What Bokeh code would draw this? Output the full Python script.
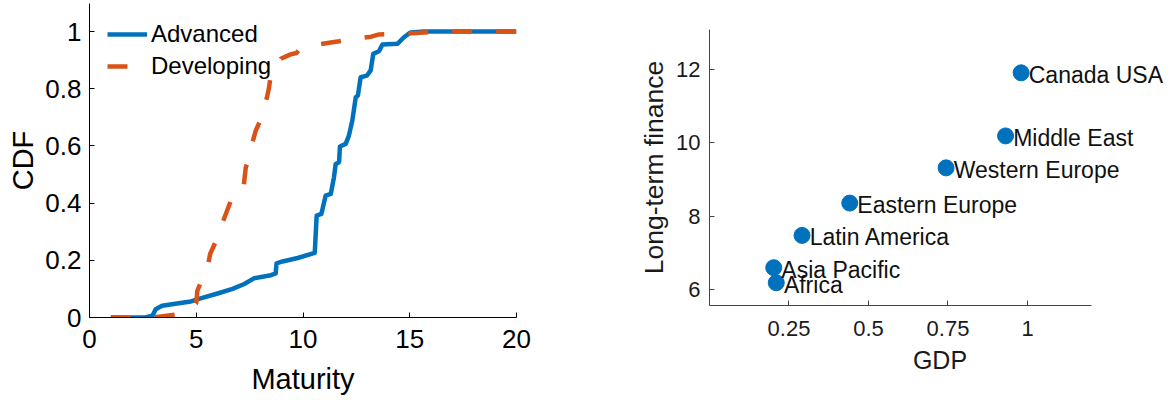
from bokeh.plotting import figure
from bokeh.layouts import row, column
from bokeh.models import (FixedTicker, NumeralTickFormatter, Legend, LegendItem,
                          Range1d)
from bokeh.embed import file_html
from bokeh.resources import INLINE
from bokeh.core.properties import value

FONT = "Liberation Sans"
BLUE = "#0072BD"
ORANGE = "#D95319"

# ---- Left panel: CDF of maturity ----
adv_maturity = [1.0, 2.6, 2.95, 3.1, 3.4, 4.1, 4.75, 5.2, 6.0, 6.7, 7.25, 7.7, 8.5,
                8.72, 8.76, 9.04, 9.75, 10.55, 10.64, 10.86, 11.06, 11.3, 11.45,
                11.53, 11.69, 11.73, 12.0, 12.15, 12.31, 12.47, 12.57, 12.7, 13.0,
                13.17, 13.29, 13.56, 13.72, 14.42, 14.73, 15.04, 15.66, 20.0]
adv_cdf = [0.0, 0.0, 0.006, 0.029, 0.041, 0.049, 0.056, 0.067, 0.084, 0.1, 0.117,
           0.137, 0.148, 0.154, 0.189, 0.196, 0.208, 0.226, 0.356, 0.362, 0.426,
           0.432, 0.49, 0.537, 0.543, 0.598, 0.607, 0.636, 0.689, 0.77, 0.776,
           0.84, 0.846, 0.864, 0.922, 0.931, 0.955, 0.957, 0.98, 0.997, 1.0, 1.0]

dev_maturity = [1.0, 3.0, 4.0, 4.85, 5.0, 5.05, 5.37, 5.53, 5.65, 6.0, 6.15, 6.27,
                6.62, 6.9, 7.1, 7.21, 7.32, 7.45, 7.55, 7.79, 7.95, 8.1, 8.33, 8.4,
                8.49, 8.96, 9.42, 9.7, 9.81, 10.75, 11.69, 12.7, 13.2, 13.56, 14.73,
                15.66, 16.5, 20.0]
dev_cdf = [0.0, 0.0, 0.01, 0.041, 0.05, 0.093, 0.152, 0.175, 0.222, 0.28, 0.31,
           0.339, 0.408, 0.42, 0.43, 0.45, 0.525, 0.55, 0.59, 0.654, 0.68, 0.706,
           0.776, 0.8, 0.846, 0.905, 0.92, 0.925, 0.936, 0.955, 0.966, 0.978,
           0.982, 0.99, 0.992, 0.997, 1.0, 1.0]

cdf_xticks = [0, 5, 10, 15, 20]
cdf_yticks = [0, 0.2, 0.4, 0.6, 0.8, 1]

# ---- Right panel: regions ----
regions = ["Canada USA", "Middle East", "Western Europe", "Eastern Europe",
           "Latin America", "Asia Pacific", "Africa"]
gdp = [0.98, 0.931, 0.744, 0.441, 0.291, 0.202, 0.21]
long_term_finance = [11.91, 10.19, 9.32, 8.36, 7.48, 6.6, 6.19]
gdp_ticks = [0.25, 0.5, 0.75, 1]
ltf_ticks = [6, 8, 10, 12]
gdp_limits = (0, 1.2)
ltf_limits = (5.57, 13.09)


def style_axes(p, tick_size, label_size, color, line_color, tick_standoff_x,
               tick_standoff_y, label_standoff_x, label_standoff_y):
    p.outline_line_color = None
    p.grid.visible = False
    p.background_fill_color = "white"
    p.border_fill_color = "white"
    for ax in (p.xaxis[0], p.yaxis[0]):
        ax.major_tick_in = 5
        ax.major_tick_out = 0
        ax.minor_tick_line_color = None
        ax.axis_line_color = line_color
        ax.major_tick_line_color = line_color
        ax.axis_line_width = 1
        ax.major_label_text_font = FONT
        ax.major_label_text_font_size = tick_size
        ax.major_label_text_color = color
        ax.axis_label_text_font = FONT
        ax.axis_label_text_font_size = label_size
        ax.axis_label_text_font_style = "normal"
        ax.axis_label_text_color = color
    p.xaxis[0].major_label_standoff = tick_standoff_x
    p.yaxis[0].major_label_standoff = tick_standoff_y
    p.xaxis[0].axis_label_standoff = label_standoff_x
    p.yaxis[0].axis_label_standoff = label_standoff_y


p1 = figure(width=600, height=400, x_range=Range1d(0, 20), y_range=Range1d(0, 1.098),
            output_backend="svg", toolbar_location=None,
            min_border_left=89, min_border_right=84, min_border_top=3,
            min_border_bottom=83, x_axis_label="Maturity", y_axis_label="CDF")
style_axes(p1, "26px", "29px", "black", "black", 12, 8, 12, 3)
p1.xaxis.ticker = FixedTicker(ticks=cdf_xticks)
p1.yaxis.ticker = FixedTicker(ticks=cdf_yticks)
p1.yaxis.formatter = NumeralTickFormatter(format="0.[0]")

l_adv = p1.line(adv_maturity, adv_cdf, line_color=BLUE, line_width=4.5,
                line_join="round")
l_dev = p1.line(dev_maturity, dev_cdf, line_color=ORANGE, line_width=4.5,
                line_dash="20 24")

legend = Legend(items=[LegendItem(label="Advanced", renderers=[l_adv]),
                       LegendItem(label="Developing", renderers=[l_dev])],
                location=(18, 237), padding=0, margin=0, spacing=4,
                glyph_width=40, glyph_height=28, label_height=28, label_standoff=4,
                label_text_font=FONT, label_text_font_size="24px",
                label_text_color="black", border_line_color=None,
                background_fill_alpha=0)
p1.add_layout(legend)

p2 = figure(width=575, height=400,
            x_range=Range1d(0, 1.4497), y_range=Range1d(*ltf_limits),
            output_backend="svg", toolbar_location=None,
            min_border_left=109, min_border_right=5, min_border_top=29,
            min_border_bottom=95, x_axis_label="GDP",
            y_axis_label="Long-term finance")
style_axes(p2, "22px", "25px", "#1a1a1a", "#444444", 15, 9, 7, 4)
p2.yaxis.axis_label_text_font_size = "26.5px"
p2.xaxis.bounds = gdp_limits
p2.xaxis.ticker = FixedTicker(ticks=gdp_ticks)
p2.xaxis.formatter = NumeralTickFormatter(format="0.[00]")
p2.yaxis.ticker = FixedTicker(ticks=ltf_ticks)

p2.scatter(gdp, long_term_finance, size=16, fill_color=BLUE, line_color=BLUE)
p2.text(gdp, long_term_finance, text=regions, x_offset=7.6, y_offset=2,
        text_baseline="middle", text_align="left", text_font=value(FONT),
        text_font_size="23px", text_color="#111111")

# p2 wrapped in its own column so its frame is not aligned with p1's frame
layout = row(p1, column(p2))
open("out.html", "w").write(file_html(layout, INLINE))
